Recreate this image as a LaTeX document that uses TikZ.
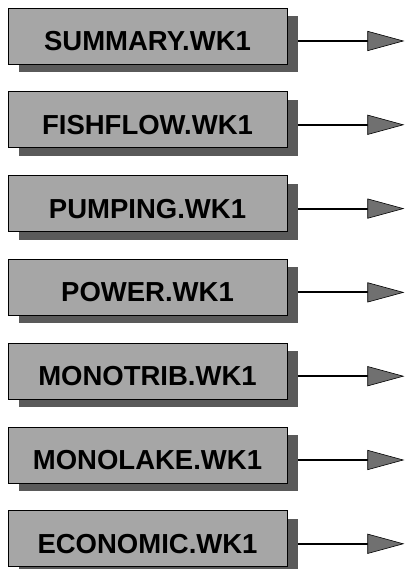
\documentclass[tikz,border=0pt]{standalone}
\usepackage{fontspec}
\setmainfont{Liberation Sans}
\usepackage{xcolor}
\definecolor{facegray}{HTML}{A6A6A6}
\definecolor{shadegray}{HTML}{5A5A5A}
\definecolor{tipgray}{HTML}{707070}
\usepackage{tikz}
\usetikzlibrary{arrows.meta,positioning,shadows}

\begin{document}
\begin{tikzpicture}[
  wk/.style={draw,line width=0.8pt,fill=facegray,minimum width=279pt,minimum height=56pt,inner sep=0pt,
    text height=29pt,text depth=0pt,font=\fontsize{27.5}{30}\selectfont\bfseries,
    drop shadow={shadow xshift=11pt,shadow yshift=-8pt,fill=shadegray,opacity=1}},
  arr/.style={-{Triangle[length=37pt,width=20pt,fill=tipgray,line width=0.6pt]},line width=2pt}]
\useasboundingbox (0,0) rectangle (405pt,569pt);
\node[wk] (sum) at (147.5pt,533pt) {SUMMARY.WK1};
\node[wk,below=27pt of sum] (fish) {FISHFLOW.WK1};
\node[wk,below=27pt of fish] (pump) {PUMPING.WK1};
\node[wk,below=27pt of pump] (pow) {POWER.WK1};
\node[wk,below=27pt of pow] (trib) {MONOTRIB.WK1};
\node[wk,below=27pt of trib] (lake) {MONOLAKE.WK1};
\node[wk,below=27pt of lake] (econ) {ECONOMIC.WK1};
% outputs
\coordinate (sum-out) at ([xshift=117pt,yshift=-5pt]sum.east);
\coordinate (fish-out) at ([xshift=117pt,yshift=-5pt]fish.east);
\coordinate (pump-out) at ([xshift=117pt,yshift=-5pt]pump.east);
\coordinate (pow-out) at ([xshift=117pt,yshift=-5pt]pow.east);
\coordinate (trib-out) at ([xshift=117pt,yshift=-5pt]trib.east);
\coordinate (lake-out) at ([xshift=117pt,yshift=-5pt]lake.east);
\coordinate (econ-out) at ([xshift=117pt,yshift=-5pt]econ.east);
\draw[arr] ([xshift=11pt,yshift=-5pt]sum.east) -- (sum-out);
\draw[arr] ([xshift=11pt,yshift=-5pt]fish.east) -- (fish-out);
\draw[arr] ([xshift=11pt,yshift=-5pt]pump.east) -- (pump-out);
\draw[arr] ([xshift=11pt,yshift=-5pt]pow.east) -- (pow-out);
\draw[arr] ([xshift=11pt,yshift=-5pt]trib.east) -- (trib-out);
\draw[arr] ([xshift=11pt,yshift=-5pt]lake.east) -- (lake-out);
\draw[arr] ([xshift=11pt,yshift=-5pt]econ.east) -- (econ-out);
\end{tikzpicture}
\end{document}
